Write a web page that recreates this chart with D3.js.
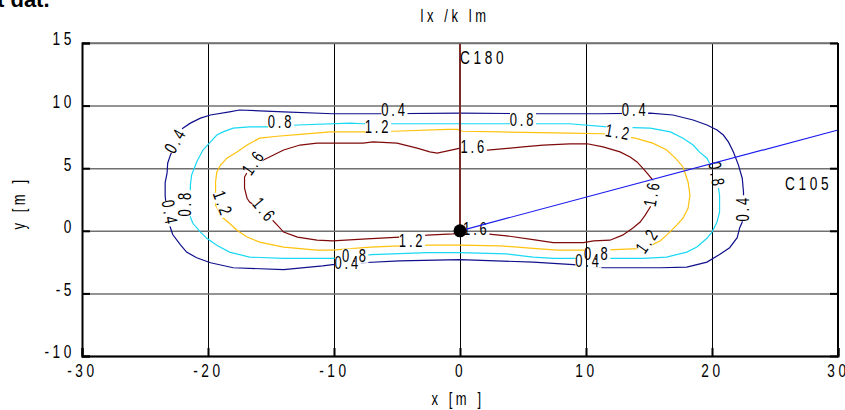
<!DOCTYPE html>
<html>
<head>
<meta charset="utf-8">
<script src="https://cdn.jsdelivr.net/npm/d3@7"></script>
<style>
  body { margin: 0; background: #fff; }
  svg text { font-family: "Liberation Sans", Arial, sans-serif; }
</style>
</head>
<body>
<div id="chart-area"></div>
<script>
// axis ticks
const xTicks = [-30, -20, -10, 0, 10, 20, 30];
const yTicks = [-10, -5, 0, 5, 10, 15];
const levels = [0.4, 0.8, 1.2, 1.6];

// contour lines (x, y in metres), closed loops
const line04 = [
  [-22.0, 8.2], [-21.4, 8.6], [-20.6, 9.0], [-19.8, 9.25], [-18.3, 9.5], [-17.5, 9.65],
  [-14.0, 9.5], [-10.1, 9.35], [-6.3, 9.35], [0, 9.4], [6.3, 9.35], [11.1, 9.35],
  [15.1, 9.4], [16.9, 9.25], [18.5, 8.85], [19.6, 8.45], [20.4, 8.05], [20.9, 7.65],
  [21.3, 7.1], [21.7, 6.3], [22.1, 5.25], [22.4, 4.2], [22.5, 3.1], [22.5, 1.9],
  [22.4, 0.7], [22.2, 0.25], [22.0, -0.55], [21.4, -1.35], [20.6, -1.9], [19.6, -2.5],
  [18.0, -2.9], [15.9, -2.95], [13.25, -2.95], [11.35, -2.95], [9.0, -2.7], [7.4, -2.6],
  [5.8, -2.5], [0, -2.3], [-4.8, -2.4], [-7.8, -2.55], [-10.1, -2.7], [-10.9, -2.8],
  [-14.0, -3.1], [-18.0, -2.95], [-19.8, -2.55], [-20.9, -2.15], [-21.7, -1.7], [-22.2, -1.1],
  [-22.8, -0.3], [-23.0, 0.3], [-23.25, 1.25], [-23.4, 2.8], [-23.4, 3.85], [-23.25, 4.6],
  [-23.2, 5.4], [-23.0, 6.0], [-22.6, 7.0]
];
const line08 = [
  [-21.4, 1.1], [-21.4, 3.65], [-21.3, 4.45], [-20.9, 5.5], [-20.4, 6.45], [-19.8, 7.1],
  [-19.3, 7.65], [-18.8, 7.9], [-18.0, 8.2], [-16.7, 8.3], [-15.3, 8.3], [-12.9, 8.45],
  [-8.7, 8.6], [-7.7, 8.55], [-5.3, 8.55], [0, 8.55], [4.0, 8.55], [6.5, 8.55],
  [8.7, 8.55], [11.7, 8.3], [15.1, 8.2], [16.7, 7.9], [17.7, 7.4], [18.5, 6.85],
  [19.0, 6.3], [19.6, 5.8], [20.0, 5.0], [20.5, 3.5], [20.6, 2.85], [20.6, 1.5],
  [20.4, 0.7], [20.0, -0.1], [19.6, -0.6], [18.8, -1.3], [18.0, -1.7], [16.4, -2.1],
  [14.5, -2.2], [12.1, -2.2], [9.0, -2.2], [7.4, -2.2], [5.8, -2.1], [3.7, -1.85],
  [0, -1.75], [-2.6, -1.75], [-7.0, -1.9], [-10.1, -2.2], [-14.0, -2.2], [-16.7, -2.1],
  [-18.3, -1.7], [-19.3, -1.15], [-20.1, -0.6], [-20.6, -0.1], [-21.2, 0.6]
];
const line12 = [
  [-19.4, 3.25], [-19.4, 3.9], [-19.3, 4.7], [-19.0, 5.25], [-18.5, 5.8], [-17.7, 6.3],
  [-16.9, 6.85], [-15.9, 7.4], [-14.5, 7.55], [-12.7, 7.7], [-10.3, 7.9], [-7.7, 7.9],
  [-5.3, 7.95], [-1.0, 8.1], [-0.2, 8.1], [0.2, 7.95], [3.2, 7.9], [8.7, 7.8],
  [11.35, 7.75], [13.9, 7.4], [15.3, 7.0], [16.4, 6.45], [17.1, 5.8], [17.7, 5.1],
  [18.1, 3.9], [18.25, 2.85], [18.1, 1.8], [17.7, 1.0], [17.2, 0.45], [16.4, -0.35],
  [15.9, -0.8], [14.7, -1.4], [13.7, -1.45], [11.35, -1.55], [9.8, -1.55], [7.7, -1.55],
  [5.8, -1.4], [3.2, -1.2], [0, -1.15], [-2.4, -1.15], [-4.8, -1.2], [-7.1, -1.3],
  [-10.1, -1.55], [-11.35, -1.55], [-14.0, -1.3], [-15.9, -0.9], [-16.9, -0.5], [-17.7, 0.05],
  [-18.3, 0.6], [-18.9, 1.1], [-19.4, 2.05]
];
const line16 = [
  [-17.1, 4.3], [-16.7, 5.0], [-15.6, 5.65], [-14.8, 6.05], [-14.0, 6.45], [-12.7, 6.85],
  [-11.35, 7.0], [-8.7, 7.0], [-7.7, 7.0], [-6.9, 7.1], [-5.0, 7.0], [-3.4, 6.6],
  [-2.4, 6.3], [-1.8, 6.2], [-1.35, 6.3], [-0.25, 6.55], [0, 6.6], [2.2, 6.45],
  [4.0, 6.6], [5.0, 6.7], [6.6, 6.85], [8.7, 6.95], [10.1, 6.95], [11.35, 6.7],
  [12.7, 6.3], [13.5, 5.9], [14.05, 5.5], [14.5, 5.0], [14.85, 4.6], [15.3, 4.05],
  [15.4, 3.0], [15.1, 1.9], [14.7, 1.25], [14.3, 0.7], [13.7, 0.2], [12.9, -0.35],
  [11.9, -0.75], [10.6, -0.8], [9.8, -0.95], [7.4, -0.95], [5.8, -0.7], [3.7, -0.4],
  [2.1, -0.25], [0, -0.2], [-0.55, -0.25], [-2.6, -0.35], [-4.8, -0.5], [-7.4, -0.65],
  [-10.1, -0.8], [-11.35, -0.75], [-12.9, -0.5], [-14.0, -0.1], [-14.5, 0.45], [-15.5, 1.5],
  [-16.7, 2.3], [-16.9, 2.6], [-17.1, 3.4]
];
const contourLines = [line04, line08, line12, line16];
const contourColors = ["#10108c", "#18d8f4", "#ffc20e", "#7f0a0a"];

// contour labels: [level, x, y, angle]
const contourLabels = [
  [0.4, -22.6, 7.25, -60], [0.4, -5.2, 9.65, 0], [0.4, 13.9, 9.7, 0], [0.4, 22.4, 1.8, -90],
  [0.4, -23.0, 1.4, 80], [0.4, -8.9, -2.5, 0], [0.4, 10.2, -2.4, 0],
  [0.8, -14.2, 8.75, 0], [0.8, 5.0, 8.85, 0], [0.8, -21.9, 2.2, -90], [0.8, 20.4, 4.45, 80],
  [0.8, -8.3, -2.0, 0], [0.8, 10.9, -1.85, 0],
  [1.2, -6.5, 8.3, 0], [1.2, 12.6, 7.9, 10], [1.2, -18.8, 2.15, 70], [1.2, 14.85, -0.75, -55],
  [1.2, -3.8, -0.8, 0],
  [1.6, 1.1, 6.7, 0], [1.6, 15.2, 3.0, -80], [1.6, -16.4, 5.5, -55], [1.6, -15.5, 1.65, 50],
  [1.6, 1.3, 0.15, 0]
];

// the two view directions from the observer at the origin
const c180End = [0, 15];
const c105End = [30, 8.05];

const width = 845, height = 410;
const squeeze = 0.72;   // the plot font is tall and narrow
const x = d3.scaleLinear().domain([-30, 30]).range([82, 838]);
const y = d3.scaleLinear().domain([-10, 15]).range([356, 43]);

const svg = d3.select("#chart-area").append("svg")
    .attr("width", width)
    .attr("height", height)

// narrow text placed at px, py
function narrowText(px, py, str, opts = {}) {
    return svg.append("text")
        .attr("transform", `translate(${px},${py}) rotate(${opts.angle || 0}) scale(${squeeze},1)`)
        .attr("text-anchor", opts.anchor || "start")
        .attr("font-size", opts.size || 19)
        .attr("letter-spacing", opts.spacing == null ? 5 : opts.spacing)
        .text(str)
}

// cut-off heading from the page above
svg.append("text")
    .attr("x", -3).attr("y", 7)
    .style("font-weight", "bold")
    .attr("font-size", 22)
    .text("t dat.")

// grid
svg.append("g")
    .attr("transform", "translate(0,356)")
    .call(d3.axisBottom(x).tickValues(xTicks).tickSize(-313).tickFormat(""))
    .call(g => g.select(".domain").remove())
    .call(g => g.selectAll("line").attr("stroke", "#000").attr("stroke-width", 1))

svg.append("g")
    .attr("transform", "translate(82,0)")
    .call(d3.axisLeft(y).tickValues(yTicks).tickSize(-756).tickFormat(""))
    .call(g => g.select(".domain").remove())
    .call(g => g.selectAll("line").attr("stroke", "#707070").attr("stroke-width", 1.5))

// contour lines with gaps where the labels sit
const defs = svg.append("defs")
const mask = defs.append("mask").attr("id", "label-gaps")
mask.append("rect").attr("width", width).attr("height", height).attr("fill", "#fff")
mask.selectAll("rect.gap")
    .data(contourLabels)
    .enter().append("rect")
    .attr("class", "gap")
    .attr("x", -13).attr("y", -7)
    .attr("width", 26).attr("height", 14)
    .attr("fill", "#000")
    .attr("transform", d => `translate(${x(d[1])},${y(d[2])}) rotate(${d[3]})`)

const line = d3.line()
    .x(d => x(d[0]))
    .y(d => y(d[1]))
    .curve(d3.curveLinearClosed)

svg.append("g")
    .attr("mask", "url(#label-gaps)")
    .selectAll("path")
    .data(contourLines)
    .enter().append("path")
    .attr("d", line)
    .attr("fill", "none")
    .attr("stroke", (d, i) => contourColors[i])
    .attr("stroke-width", 1.2)

svg.selectAll("text.clabel")
    .data(contourLabels)
    .enter().append("text")
    .attr("class", "clabel")
    .attr("transform", d => `translate(${x(d[1])},${y(d[2])}) rotate(${d[3]}) scale(${squeeze},1)`)
    .attr("text-anchor", "middle")
    .attr("dy", "0.36em")
    .attr("font-size", 18)
    .attr("letter-spacing", 4)
    .text(d => d[0].toFixed(1))

// view lines
svg.append("line")
    .attr("x1", x(0)).attr("y1", y(0))
    .attr("x2", x(c180End[0])).attr("y2", y(c180End[1]))
    .attr("stroke", "#7b2a2a").attr("stroke-width", 2)
svg.append("line")
    .attr("x1", x(0)).attr("y1", y(0))
    .attr("x2", x(c105End[0])).attr("y2", y(c105End[1]))
    .attr("stroke", "#1c1cf0").attr("stroke-width", 1.2)

svg.append("circle")
    .attr("cx", x(0)).attr("cy", y(0)).attr("r", 6.5)
    .attr("fill", "#000")

narrowText(x(0), 64, "C180")
narrowText(785, 190, "C105")

// frame
svg.append("line").attr("x1", 82).attr("x2", 838).attr("y1", 43).attr("y2", 43)
    .attr("stroke", "#707070").attr("stroke-width", 1.5)
svg.append("line").attr("x1", 838).attr("x2", 838).attr("y1", 43).attr("y2", 356)
    .attr("stroke", "#000").attr("stroke-width", 2)

// squeeze tick labels around their own x position
function squeezeTicks(g) {
    g.selectAll("text").each(function () {
        const t = d3.select(this)
        const tx = +t.attr("x") || 0
        t.attr("x", tx / squeeze)
            .attr("transform", `scale(${squeeze},1)`)
            .attr("font-size", 19)
            .attr("letter-spacing", 5)
            .attr("font-family", null)
    })
}

// axes
svg.append("g")
    .attr("transform", "translate(0,356)")
    .call(d3.axisBottom(x).tickValues(xTicks).tickSize(-8).tickPadding(8).tickFormat(d => String(d)))
    .call(g => g.select(".domain").attr("stroke-width", 2))
    .call(g => g.selectAll("line").attr("stroke-width", 2))
    .call(squeezeTicks)

svg.append("g")
    .attr("transform", "translate(82,0)")
    .call(d3.axisLeft(y).tickValues(yTicks).tickSize(-8).tickPadding(7).tickFormat(d => String(d)))
    .call(g => g.select(".domain").attr("stroke-width", 2))
    .call(g => g.selectAll("line").attr("stroke-width", 2))
    .call(squeezeTicks)
    .call(g => g.selectAll("text").attr("dy", "0.1em"))

svg.append("g")
    .attr("transform", "translate(838,0)")
    .call(d3.axisRight(y).tickValues(yTicks).tickSize(-8).tickFormat(""))
    .call(g => g.select(".domain").remove())
    .call(g => g.selectAll("line").attr("stroke-width", 2))

// titles
narrowText(455, 22, "lx /k lm", {anchor: "middle", size: 18})
narrowText(458, 405, "x [m ]", {anchor: "middle", size: 18})
narrowText(25, 203, "y [m ]", {anchor: "middle", size: 18, angle: -90})
</script>
</body>
</html>
